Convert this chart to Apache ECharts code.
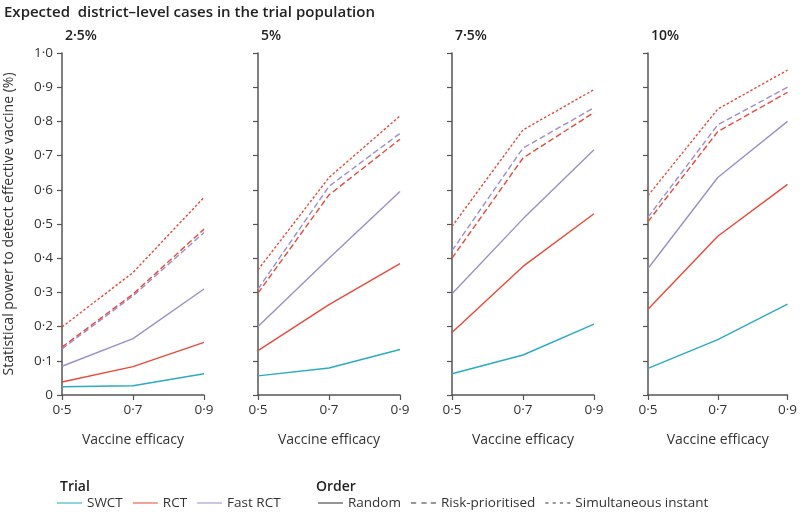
<!DOCTYPE html>
<html>
<head>
<meta charset="utf-8">
<script src="https://cdn.jsdelivr.net/npm/echarts@6/dist/echarts.min.js"></script>
<style>
  html, body { margin: 0; padding: 0; background: #fff; }
  #chart { width: 800px; height: 514px; }
</style>
</head>
<body>
<div id="chart"></div>
<script>
// data
const efficacy = ['0·5', '0·7', '0·9'];
const panelTitles = ['2·5%', '5%', '7·5%', '10%'];

// one row per panel (2.5%, 5%, 7.5%, 10%)
const swctRandom = [[0.024, 0.027, 0.062], [0.056, 0.079, 0.133], [0.062, 0.117, 0.207], [0.078, 0.162, 0.266]];
const rctRandom = [[0.038, 0.083, 0.154], [0.13, 0.264, 0.384], [0.183, 0.376, 0.53], [0.251, 0.464, 0.616]];
const fastRandom = [[0.084, 0.165, 0.31], [0.2, 0.4, 0.595], [0.296, 0.515, 0.717], [0.37, 0.636, 0.8]];
const fastRisk = [[0.135, 0.29, 0.475], [0.31, 0.61, 0.765], [0.422, 0.722, 0.84], [0.52, 0.79, 0.9]];
const rctRisk = [[0.14, 0.295, 0.485], [0.298, 0.585, 0.748], [0.4, 0.693, 0.826], [0.507, 0.77, 0.885]];
const simultaneous = [[0.199, 0.358, 0.578], [0.366, 0.636, 0.816], [0.493, 0.775, 0.893], [0.583, 0.836, 0.95]];

const trialNames = ['SWCT', 'RCT', 'Fast RCT'];
const orderNames = ['Random', 'Risk-prioritised', 'Simultaneous instant'];

const COL = { SWCT: '#2aaac3', RCT: '#e84a3a', Fast: '#9d8ecb', ink: '#333' };
const FONT = '"Open Sans", "Noto Sans", sans-serif';
const DASH = [6, 3];
const DOT = [2.5, 2];

// legend icons drawn as thin filled bars (solid / dashed / dotted)
const ICON_SOLID = 'path://M0,0h24v1h-24z';
const ICON_DASH = 'path://M0,0h5v1h-5z M10,0h5v1h-5z M19,0h5v1h-5z';
const ICON_DOT = 'path://M0,0h3v1h-3z M7,0h3v1h-3z M14,0h3v1h-3z M21,0h3v1h-3z';

const gridLeft = [62, 258, 452, 648];
const gridW = 142;

const grids = [];
const xAxes = [];
const yAxes = [];
const titles = [{
  text: 'Expected  district–level cases in the trial population',
  left: -1, top: 0,
  textStyle: { fontFamily: FONT, fontSize: 15, fontWeight: 600, color: '#222' },
}];
const series = [];

function fmtY(v) {
  return v === 0 ? '0' : v.toFixed(1).replace('.', '·');
}

panelTitles.forEach((t, i) => {
  grids.push({ left: gridLeft[i], width: gridW, top: 53, height: 342 });
  titles.push({
    text: t, left: gridLeft[i] - 2, top: 24,
    textStyle: { fontFamily: FONT, fontSize: 14, fontWeight: 600, color: '#222' },
  });
  xAxes.push({
    type: 'category', gridIndex: i, data: efficacy, boundaryGap: false,
    name: 'Vaccine efficacy', nameLocation: 'middle', nameGap: 38,
    nameTextStyle: { fontFamily: FONT, fontSize: 14, color: '#333' },
    axisLine: { lineStyle: { color: '#555', width: 1.5 } },
    axisTick: { length: 5, lineStyle: { color: '#555', width: 1.2 } },
    axisLabel: { fontFamily: FONT, fontSize: 13.5, color: '#333', margin: 8 },
    splitLine: { show: false },
  });
  yAxes.push({
    type: 'value', gridIndex: i, min: 0, max: 1, interval: 0.1,
    name: i === 0 ? 'Statistical power to detect effective vaccine (%)' : '',
    nameLocation: 'middle', nameGap: 46,
    nameTextStyle: { fontFamily: FONT, fontSize: 14, color: '#333' },
    axisLine: { show: true, lineStyle: { color: '#555', width: 1.5 } },
    axisTick: { show: true, length: 5, lineStyle: { color: '#555', width: 1.2 } },
    axisLabel: { show: i === 0, fontFamily: FONT, fontSize: 13.5, color: '#333', margin: 9, formatter: fmtY },
    splitLine: { show: false },
  });

  const line = (name, data, color, type) => ({
    name, type: 'line', xAxisIndex: i, yAxisIndex: i, data,
    symbol: 'none', silent: true,
    lineStyle: { color, width: 1.4, type },
  });
  series.push(line('SWCT · Random', swctRandom[i], COL.SWCT, 'solid'));
  series.push(line('RCT · Random', rctRandom[i], COL.RCT, 'solid'));
  series.push(line('Fast RCT · Random', fastRandom[i], COL.Fast, 'solid'));
  series.push(line('Fast RCT · Risk', fastRisk[i], COL.Fast, DASH));
  series.push(line('RCT · Risk', rctRisk[i], COL.RCT, DASH));
  series.push(line('Simultaneous', simultaneous[i], COL.RCT, DOT));
});

// legend-only series (no data)
const legendSeries = [
  ['SWCT', COL.SWCT], ['RCT', COL.RCT], ['Fast RCT', COL.Fast],
  ['Random', COL.ink], ['Risk-prioritised', COL.ink], ['Simultaneous instant', COL.ink],
];
legendSeries.forEach(([name, color]) => {
  series.push({
    name, type: 'line', xAxisIndex: 0, yAxisIndex: 0, data: [], symbol: 'none',
    itemStyle: { color }, lineStyle: { color, width: 1.4 },
  });
});

titles.push({ text: 'Trial', left: 55, top: 475, textStyle: { fontFamily: FONT, fontSize: 14, fontWeight: 600, color: '#222' } });
titles.push({ text: 'Order', left: 311, top: 475, textStyle: { fontFamily: FONT, fontSize: 14, fontWeight: 600, color: '#222' } });

const legendCommon = {
  top: 496, itemWidth: 25, itemHeight: 1.5, itemGap: 10, selectedMode: false, padding: 0,
  textStyle: { fontFamily: FONT, fontSize: 13.5, color: '#333' },
};

const chart = echarts.init(document.getElementById('chart'), null, { renderer: 'canvas' });
chart.setOption({
  animation: false,
  backgroundColor: '#fff',
  title: titles,
  grid: grids,
  xAxis: xAxes,
  yAxis: yAxes,
  legend: [
    Object.assign({}, legendCommon, {
      left: 57,
      data: trialNames.map((n) => ({ name: n, icon: ICON_SOLID })),
    }),
    Object.assign({}, legendCommon, {
      left: 318,
      data: [
        { name: orderNames[0], icon: ICON_SOLID },
        { name: orderNames[1], icon: ICON_DASH },
        { name: orderNames[2], icon: ICON_DOT },
      ],
    }),
  ],
  series,
});
</script>
</body>
</html>
